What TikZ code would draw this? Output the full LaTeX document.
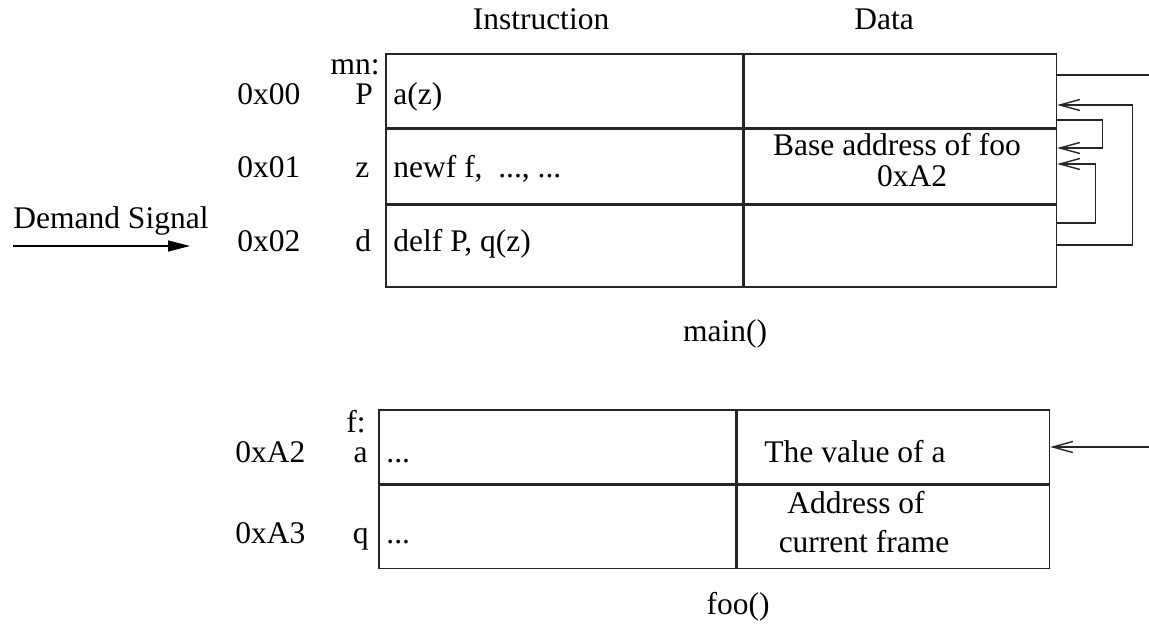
\documentclass[tikz,border=0pt]{standalone}
\usepackage{fontspec}
\setmainfont{Liberation Serif}
\usetikzlibrary{arrows.meta,positioning}
\newcommand{\memfont}{\fontsize{15.75}{18}\selectfont}
\tikzset{
  cellbox/.style={rectangle, draw=black!85, line width=0.8pt, inner sep=0pt, anchor=north west},
  inscell/.style={cellbox, minimum width=178.5pt},
  datcell/.style={cellbox, minimum width=156pt},
  txt/.style={inner sep=0pt, font=\memfont},
  lbl/.style={txt, anchor=base west},
  rlbl/.style={txt, anchor=base east},
  clbl/.style={txt, anchor=base},
  openarr/.style={-{Straight Barb[length=10pt,width=5.5pt]}, line width=0.7pt, draw=black!85},
  plainline/.style={line width=0.7pt, draw=black!85},
  sigarr/.style={-{Triangle[length=11pt,width=5.5pt]}, line width=0.7pt},
}
\begin{document}
\begin{tikzpicture}[x=0.5pt, y=-0.5pt]
    \useasboundingbox (0,0) rectangle (1149,625);
    % main() frame
    \node[inscell, minimum height=37pt] (i0) at (385,53) {};
    \node[inscell, minimum height=37pt, below=0pt of i0] (i1) {};
    \node[inscell, minimum height=41pt, below=0pt of i1] (i2) {};
    \node[datcell, minimum height=37pt, right=0pt of i0] (d0) {};
    \node[datcell, minimum height=37pt, right=0pt of i1] (d1) {};
    \node[datcell, minimum height=41pt, right=0pt of i2] (d2) {};
    \node[clbl] (hins) at (541,30) {Instruction};
    \node[clbl] (hdat) at (884,30) {Data};
    \node[rlbl] (mn) at (380,75) {mn:};
    \node[lbl] (a0) at (237,105) {0x00};
    \node[lbl] (a1) at (237,178) {0x01};
    \node[lbl] (a2) at (237,252) {0x02};
    \node[lbl] (n0) at (355,105) {P};
    \node[lbl] (n1) at (355,178) {z};
    \node[lbl] (n2) at (355,252) {d};
    \node[lbl] (t0) at (393,105) {a(z)};
    \node[lbl] (t1) at (393,178) {newf f,\ \ ..., ...};
    \node[lbl] (t2) at (393,252) {delf P, q(z)};
    \node[clbl] (base) at (897,156) {Base address of foo};
    \node[clbl] (baseval) at (912,187) {0xA2};
    \node[clbl] (mainlbl) at (725,342) {main()};
    % demand signal
    \node[lbl] (sig) at (13,229) {Demand Signal};
    \coordinate (sigin) at (13,246);
    \coordinate (sigout) at (190,246);
    \draw[sigarr] (sigin) -- (sigout);
    % links on the right
    \draw[plainline] (d0.east |- 0,75) -- ++(95,0);
    \draw[openarr] (d2.east |- 0,245) -- ++(75,0) |- (d0.east |- 0,105);
    \draw[openarr] (d0.east |- 0,120) -- ++(45,0) |- (d1.east |- 0,148);
    \draw[openarr] (d2.east |- 0,223) -- ++(38,0) |- (d1.east |- 0,164);
    % foo() frame
    \node[inscell, minimum height=37pt] (fi0) at (378,409) {};
    \node[inscell, minimum height=41.5pt, below=0pt of fi0] (fi1) {};
    \node[datcell, minimum height=37pt, right=0pt of fi0] (fd0) {};
    \node[datcell, minimum height=41.5pt, right=0pt of fi1] (fd1) {};
    \node[rlbl] (flbl) at (366,432) {f:};
    \node[lbl] (fa0) at (235,462) {0xA2};
    \node[lbl] (fa1) at (235,543) {0xA3};
    \node[rlbl] (fn0) at (368,462) {a};
    \node[rlbl] (fn1) at (369,543) {q};
    \node[lbl] (ft0) at (386,462) {...};
    \node[lbl] (ft1) at (386,543) {...};
    \node[clbl] (fv0) at (855,462) {The value of a};
    \node[clbl] (fv1) at (856,513) {Address of};
    \node[clbl] (fv2) at (864,552) {current frame};
    \node[clbl] (foolbl) at (738,614) {foo()};
    \coordinate (fin) at (1149,447);
    \draw[openarr] (fin) -- (fin -| fd0.east);
\end{tikzpicture}
\end{document}
